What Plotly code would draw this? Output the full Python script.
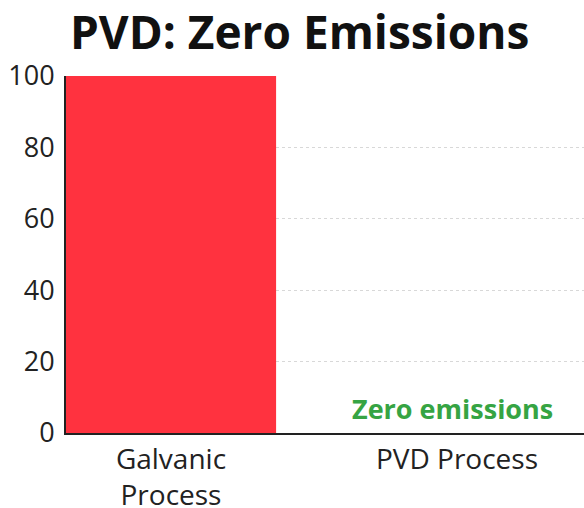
import plotly.graph_objects as go

categories = ["Galvanic<br>Process", "PVD Process"]
emissions = [100, 0]
tick_vals = [0, 20, 40, 60, 80, 100]
title_text = "PVD: Zero Emissions"
note_text = "Zero emissions"

fig = go.Figure()
fig.add_trace(go.Bar(
    x=[0, 1], y=emissions, width=0.735,
    marker=dict(color="#FF323F", line=dict(width=0)),
    hoverinfo="skip",
))
fig.add_annotation(x=1, y=0, text=f"<b>{note_text}</b>", showarrow=False,
                   yanchor="bottom", yshift=4, xshift=-5,
                   font=dict(family="Open Sans", size=27, color="#36A443"))

fig.update_layout(
    width=584, height=508,
    margin=dict(l=66, r=0, t=76, b=75),
    paper_bgcolor="white", plot_bgcolor="white",
    showlegend=False,
    title=dict(text=f"<b>{title_text}</b>", x=0.513, xanchor="center",
               y=0.935, yanchor="middle",
               font=dict(family="Open Sans", size=46, color="#111111")),
    font=dict(family="Open Sans", color="#222222"),
)
fig.update_xaxes(
    tickmode="array", tickvals=[0, 1], ticktext=categories,
    range=[-0.367, 1.444], automargin=False,
    showline=True, linecolor="#222222", linewidth=2,
    showgrid=False, ticks="", tickfont=dict(size=28, color="#222222"),
    zeroline=False,
)
fig.update_yaxes(
    range=[0, 100], tickvals=tick_vals, automargin=False,
    showline=True, linecolor="#222222", linewidth=2,
    showgrid=True, gridcolor="#D8D8D8", griddash="dot", gridwidth=1,
    ticks="", tickfont=dict(size=27, color="#222222"), zeroline=False,
    ticklabelstandoff=4,
)
fig.write_html("out.html", config={"displayModeBar": False},
               post_script="document.body.style.margin='0';document.body.style.overflow='hidden';")
